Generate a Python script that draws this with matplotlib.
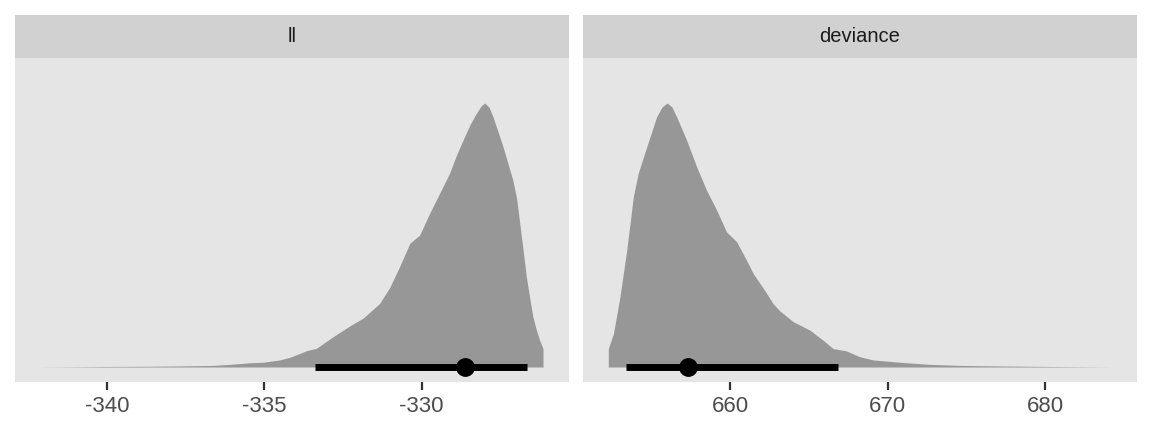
import numpy as np
import matplotlib
matplotlib.use("Agg")
import matplotlib.pyplot as plt

plt.rcParams['font.family'] = ['Liberation Sans', 'DejaVu Sans']

# ---- data ----
# ll: posterior density (normalised to peak = 1)
ll_x = [-342.12, -341.0, -340.0, -338.5, -337.7, -336.62, -335.98, -335.45,
        -335.03, -334.50, -334.18, -333.65, -333.34, -332.81, -332.29,
        -331.86, -331.33, -331.0, -330.70, -330.37, -330.06, -329.74,
        -329.48, -329.11, -328.90, -328.68, -328.46, -328.26, -328.10,
        -327.99, -327.86, -327.73, -327.41, -327.10, -326.98, -326.88,
        -326.77, -326.67, -326.56, -326.46, -326.35, -326.25, -326.14]
ll_d = [0.0, 0.001, 0.002, 0.003, 0.004, 0.006, 0.011, 0.016,
        0.018, 0.027, 0.037, 0.062, 0.071, 0.115, 0.155,
        0.185, 0.241, 0.304, 0.380, 0.469, 0.500, 0.583,
        0.645, 0.734, 0.800, 0.860, 0.918, 0.961, 0.990,
        1.0, 0.985, 0.948, 0.834, 0.708, 0.640, 0.545,
        0.440, 0.342, 0.260, 0.190, 0.140, 0.102, 0.070]
ll_interval = [-333.4, -326.65]
ll_point = -328.63
ll_ticks = [-340, -335, -330]
ll_lim = [-342.92, -325.33]

# deviance: posterior density (normalised to peak = 1)
dev_x = [652.24, 652.56, 652.98, 653.41, 653.83, 654.14, 654.68, 655.31,
         655.65, 655.98, 656.28, 656.58, 657.21, 657.85, 658.48, 659.12,
         659.75, 660.39, 661.02, 661.44, 661.87, 662.29, 662.71, 663.13,
         663.98, 665.04, 665.88, 666.52, 667.37, 668.21, 669.05, 670.75,
         672.65, 674.56, 677.09, 680.27, 684.2]
dev_d = [0.070, 0.125, 0.266, 0.443, 0.645, 0.734, 0.834, 0.948,
         0.985, 1.0, 0.985, 0.948, 0.860, 0.759, 0.670, 0.595,
         0.512, 0.475, 0.405, 0.355, 0.317, 0.280, 0.240, 0.213,
         0.172, 0.140, 0.102, 0.070, 0.061, 0.039, 0.027, 0.018,
         0.010, 0.006, 0.004, 0.002, 0.0]
dev_interval = [653.34, 666.85]
dev_point = 657.3
dev_ticks = [660, 670, 680]
dev_lim = [650.65, 685.82]

facets = ['ll', 'deviance']

W, H = 1152, 432
fig = plt.figure(figsize=(W / 100, H / 100), dpi=100)
fig.patch.set_facecolor('white')

panels = [
    (15, 568.5, ll_x, ll_d, ll_interval, ll_point, ll_ticks, ll_lim),
    (583.3, 1136.7, dev_x, dev_d, dev_interval, dev_point, dev_ticks, dev_lim),
]
top, strip_top, bottom = 58, 15, 382

for name, (x0, x1, xs, ds, iv, pt, ticks, lim) in zip(facets, panels):
    ax = fig.add_axes([x0 / W, 1 - bottom / H, (x1 - x0) / W, (bottom - top) / H])
    ax.set_facecolor('#E5E5E5')
    ax.fill_between(xs, 0, ds, color='#979797', linewidth=0, zorder=2)
    ax.plot(iv, [0, 0], color='black', linewidth=5, solid_capstyle='butt', zorder=3)
    ax.plot([pt], [0], 'o', color='black', markersize=12.5, zorder=4)
    ax.set_xlim(lim)
    ax.set_ylim(-0.0568, 1.1706)
    ax.set_xticks(ticks)
    ax.set_xticklabels([str(t) for t in ticks])
    ax.set_yticks([])
    ax.tick_params(axis='x', length=5.4, width=1.6, color='#333333',
                   labelsize=16, labelcolor='#4D4D4D', pad=4.5)
    for s in ax.spines.values():
        s.set_visible(False)

    sax = fig.add_axes([x0 / W, 1 - top / H, (x1 - x0) / W, (top - strip_top) / H])
    sax.set_facecolor('#D1D1D1')
    sax.set_xticks([])
    sax.set_yticks([])
    for s in sax.spines.values():
        s.set_visible(False)
    sax.text(0.5, 0.5, name, ha='center', va='center', fontsize=14.5,
             color='#1A1A1A', transform=sax.transAxes)

fig.savefig('out.png', dpi=100)
